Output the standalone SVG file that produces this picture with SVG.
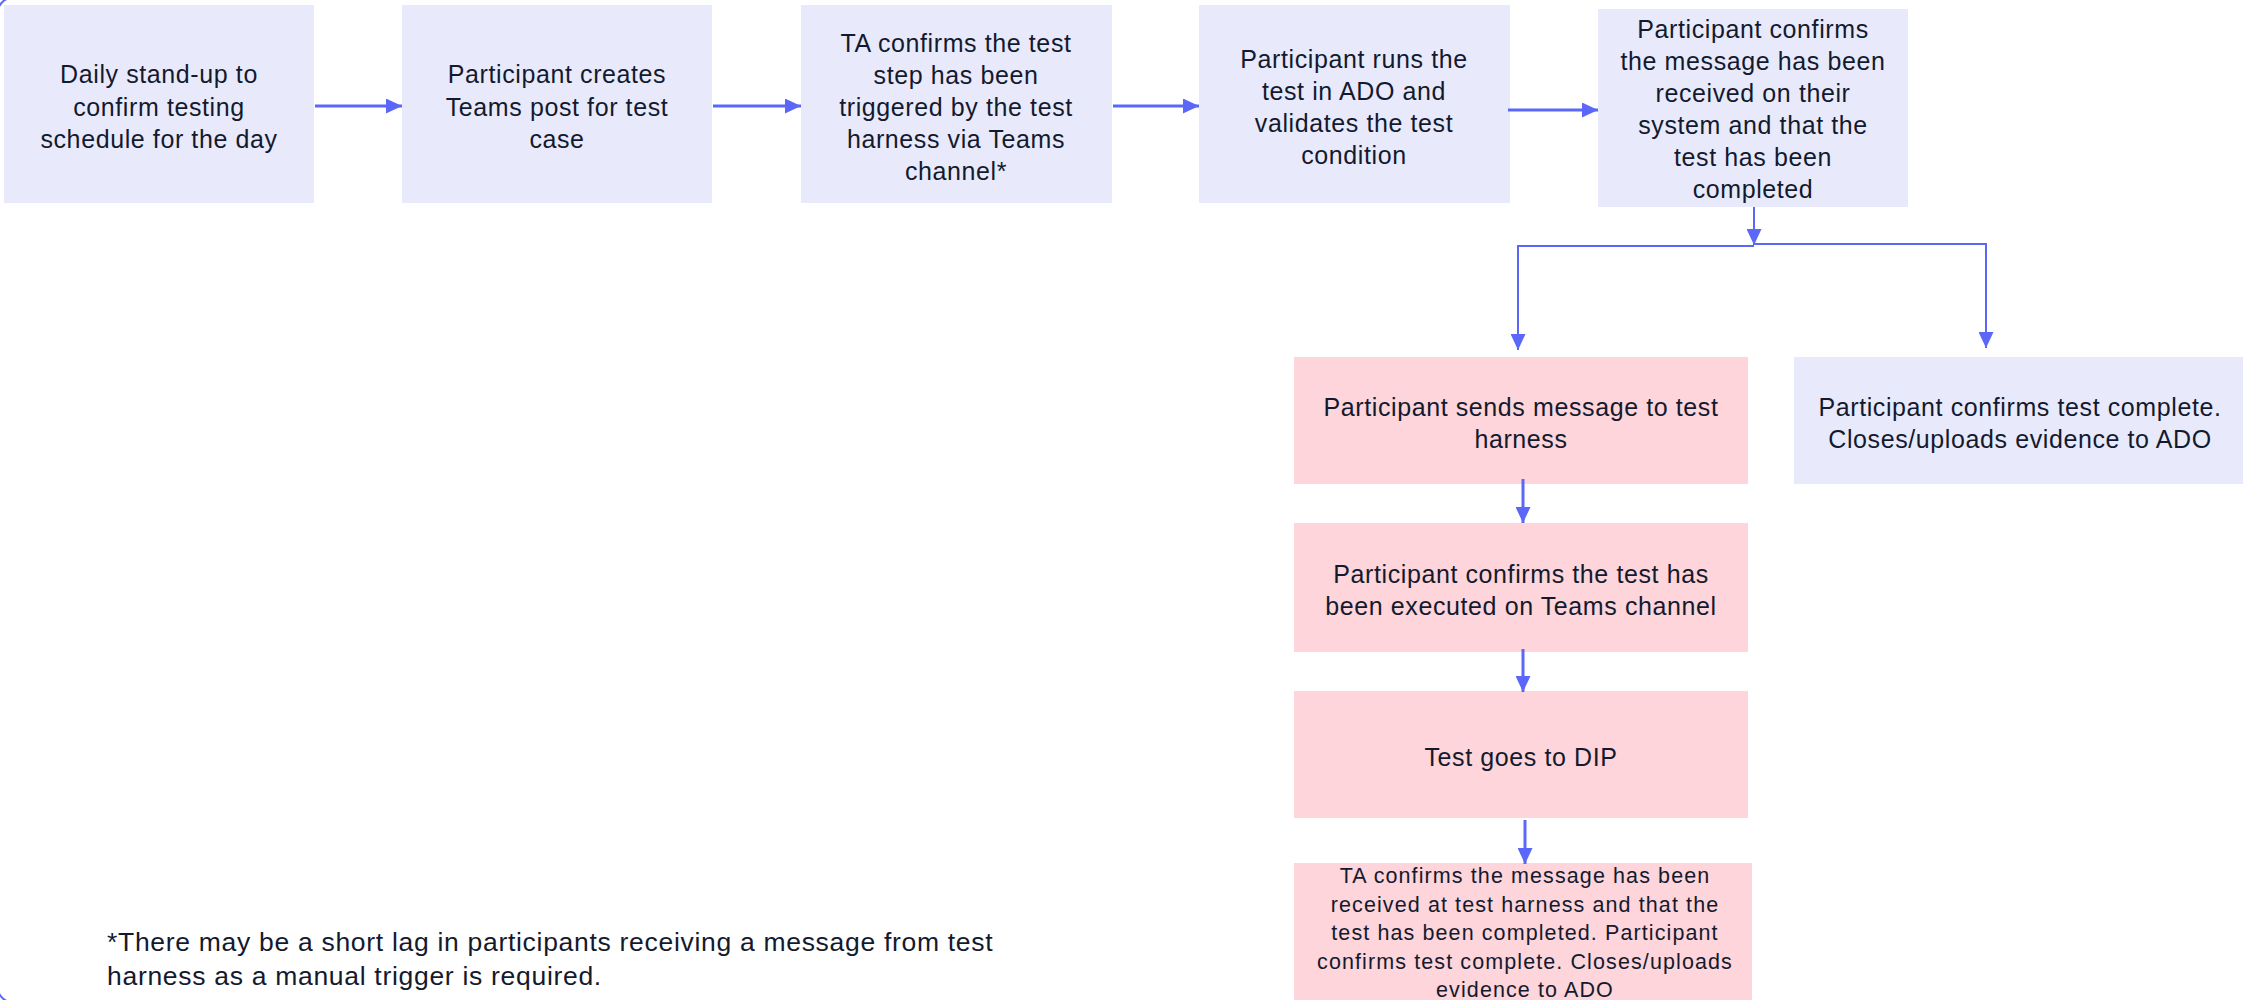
<svg xmlns="http://www.w3.org/2000/svg" width="2243" height="1000" viewBox="0 0 2243 1000">
<style>
.bl{fill:#e8eafc}
.pk{fill:#fdd5da}
.t{font-family:"Liberation Sans",Arial,sans-serif;font-size:25px;letter-spacing:0.6px;fill:#141a2e;text-anchor:middle}
.ts{font-family:"Liberation Sans",Arial,sans-serif;font-size:21.5px;letter-spacing:1.1px;fill:#141a2e;text-anchor:middle}
.fn{font-family:"Liberation Sans",Arial,sans-serif;font-size:26.5px;letter-spacing:0.7px;fill:#141a2e}
.c{fill:none;stroke:#5a67f8;stroke-width:3}
.c2{fill:none;stroke:#5a67f8;stroke-width:2}
</style>
<defs>
<marker id="ah" markerUnits="userSpaceOnUse" markerWidth="16" markerHeight="15" refX="16" refY="7.5" orient="auto">
<path d="M0,0 L16,7.5 L0,15 z" fill="#5a67f8"/>
</marker>
</defs>
<rect x="-2.5" y="-2.5" width="2270" height="1005" rx="16" ry="16" fill="none" stroke="#5a67f8" stroke-width="2"/>
<g id="n1"><rect class="bl" x="4" y="5" width="310" height="198"/>
<text class="t"><tspan x="159" y="83">Daily stand-up to</tspan><tspan x="159" y="116">confirm testing</tspan><tspan x="159" y="148">schedule for the day</tspan></text></g>
<g id="n2"><rect class="bl" x="402" y="5" width="310" height="198"/>
<text class="t"><tspan x="557" y="83">Participant creates</tspan><tspan x="557" y="116">Teams post for test</tspan><tspan x="557" y="148">case</tspan></text></g>
<g id="n3"><rect class="bl" x="801" y="5" width="311" height="198"/>
<text class="t"><tspan x="956" y="52">TA confirms the test</tspan><tspan x="956" y="84">step has been</tspan><tspan x="956" y="116">triggered by the test</tspan><tspan x="956" y="148">harness via Teams</tspan><tspan x="956" y="180">channel*</tspan></text></g>
<g id="n4"><rect class="bl" x="1199" y="5" width="311" height="198"/>
<text class="t"><tspan x="1354" y="68">Participant runs the</tspan><tspan x="1354" y="100">test in ADO and</tspan><tspan x="1354" y="132">validates the test</tspan><tspan x="1354" y="164">condition</tspan></text></g>
<g id="n5"><rect class="bl" x="1598" y="9" width="310" height="198"/>
<text class="t"><tspan x="1753" y="38">Participant confirms</tspan><tspan x="1753" y="70">the message has been</tspan><tspan x="1753" y="102">received on their</tspan><tspan x="1753" y="134">system and that the</tspan><tspan x="1753" y="166">test has been</tspan><tspan x="1753" y="198">completed</tspan></text></g>
<g id="n6"><rect class="pk" x="1294" y="357" width="454" height="127"/>
<text class="t"><tspan x="1521" y="416">Participant sends message to test</tspan><tspan x="1521" y="448">harness</tspan></text></g>
<g id="n7"><rect class="bl" x="1794" y="357" width="449" height="127"/>
<text class="t"><tspan x="2020" y="416">Participant confirms test complete.</tspan><tspan x="2020" y="448">Closes/uploads evidence to ADO</tspan></text></g>
<g id="n8"><rect class="pk" x="1294" y="523" width="454" height="129"/>
<text class="t"><tspan x="1521" y="583">Participant confirms the test has</tspan><tspan x="1521" y="615">been executed on Teams channel</tspan></text></g>
<g id="n9"><rect class="pk" x="1294" y="691" width="454" height="127"/>
<text class="t"><tspan x="1521" y="766">Test goes to DIP</tspan></text></g>
<g id="n10"><rect class="pk" x="1294" y="863" width="458" height="140"/>
<text class="ts"><tspan x="1525" y="883">TA confirms the message has been</tspan><tspan x="1525" y="912">received at test harness and that the</tspan><tspan x="1525" y="940">test has been completed. Participant</tspan><tspan x="1525" y="969">confirms test complete. Closes/uploads</tspan><tspan x="1525" y="997">evidence to ADO</tspan></text></g>
<g id="note"><text class="fn"><tspan x="107" y="951">*There may be a short lag in participants receiving a message from test</tspan><tspan x="107" y="985">harness as a manual trigger is required.</tspan></text></g>
<g id="connectors">
<path class="c" d="M315,106 L402,106" marker-end="url(#ah)"/>
<path class="c" d="M713,106 L801,106" marker-end="url(#ah)"/>
<path class="c" d="M1113,106 L1199,106" marker-end="url(#ah)"/>
<path class="c" d="M1508,110 L1598,110" marker-end="url(#ah)"/>
<path class="c2" d="M1754,207 L1754,245" marker-end="url(#ah)"/>
<path class="c2" d="M1754,246 L1518,246 L1518,350" marker-end="url(#ah)"/>
<path class="c2" d="M1754,244 L1986,244 L1986,348" marker-end="url(#ah)"/>
<path class="c" d="M1523,479 L1523,523" marker-end="url(#ah)"/>
<path class="c" d="M1523,649 L1523,692" marker-end="url(#ah)"/>
<path class="c" d="M1525,820 L1525,864" marker-end="url(#ah)"/>
</g>
</svg>
